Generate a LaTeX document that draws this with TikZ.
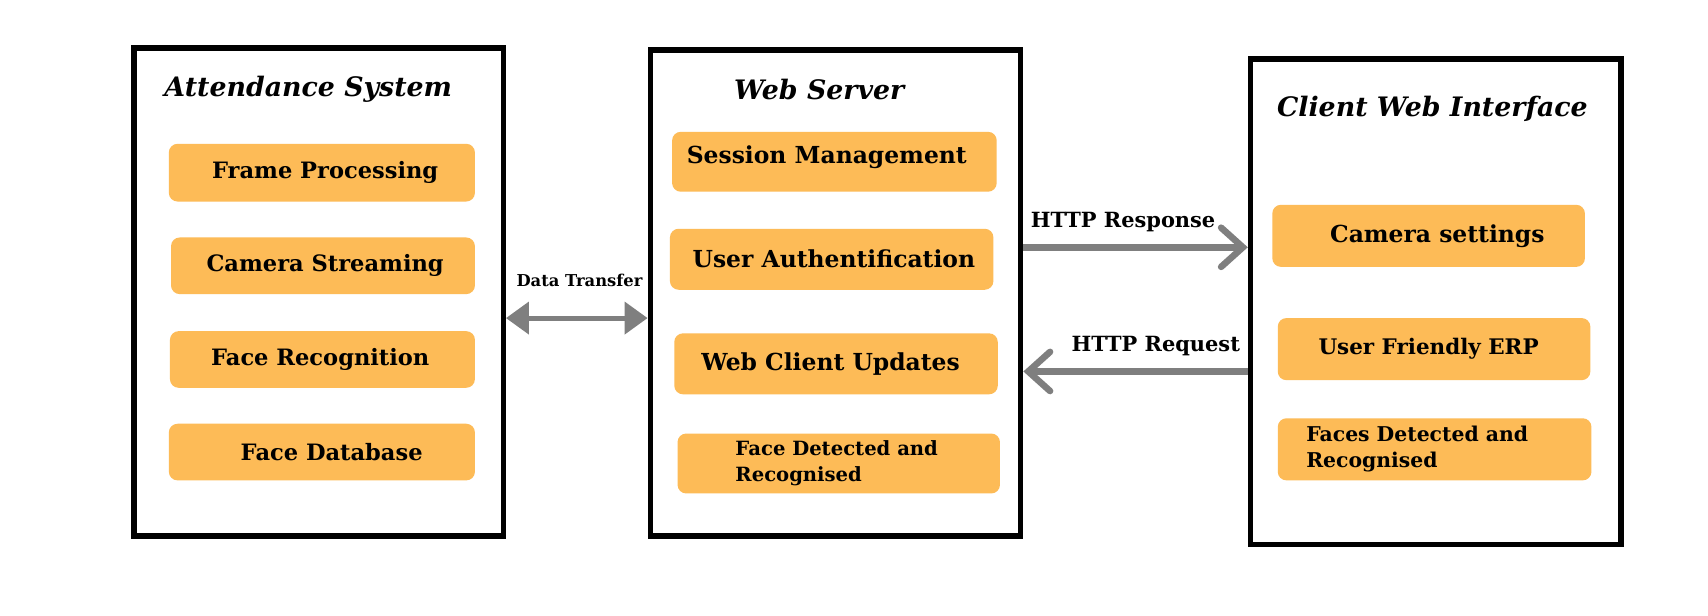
\documentclass[tikz,border=0pt]{standalone}
\usepackage{fontspec}
\setmainfont{DejaVu Serif}
\usetikzlibrary{arrows.meta}
\definecolor{orangebox}{HTML}{FDBB57}
\definecolor{arrowgray}{HTML}{7F7F7F}
\tikzset{
  frame/.style={draw=black, line width=5pt, fill=white, inner sep=0pt},
  obox/.style={fill=orangebox, rounded corners=8pt, inner sep=0pt, minimum width=281pt, minimum height=53pt},
  otext/.style={font=\fontsize{21.5}{25}\selectfont\bfseries, inner sep=0pt},
  ltext/.style={font=\fontsize{20.7}{24}\selectfont\bfseries, inner sep=0pt},
  stext/.style={font=\fontsize{18}{24}\selectfont\bfseries, inner sep=0pt, align=left},
  ttext/.style={font=\fontsize{24.6}{28}\selectfont\bfseries\itshape, inner sep=0pt},
  atext/.style={font=\fontsize{19.2}{22}\selectfont\bfseries, inner sep=0pt},
  dtarrow/.style={arrowgray, line width=4.5pt, {Triangle[length=21pt,width=29pt]}-{Triangle[length=21pt,width=29pt]}},
  barbarrow/.style={arrowgray, line width=6pt, -{Straight Barb[length=20pt,width=36pt,line cap=round]}},
}
\begin{document}
\begin{tikzpicture}[x=1pt,y=1pt]
\useasboundingbox (0,0) rectangle (1568,-565.5);
\fill[white] (0,0) rectangle (1568,-565.5);

% frames
\node[frame, minimum width=339pt, minimum height=448pt] (as) at (292.5,-268) {};
\node[frame, minimum width=340pt, minimum height=446pt] (ws) at (767,-269) {};
\node[frame, minimum width=340pt, minimum height=446pt] (cw) at (1318,-277) {};

% titles
\node[ttext] (ast) at (283,-82) {Attendance System};
\node[ttext] (wst) at (752,-82) {Web Server};
\node[ttext] (cwt) at (1315,-100) {Client Web Interface};

% attendance system boxes
\node[obox] (fp) at (295.5,-158.5) {};
\node[ltext] at ([xshift=3pt]fp.center) {Frame Processing};
\node[obox, minimum width=279pt, minimum height=52pt] (cs) at (296.5,-244) {};
\node[ltext] at ([xshift=2pt]cs.center) {Camera Streaming};
\node[obox, minimum width=280pt, minimum height=52pt] (fr) at (296,-330) {};
\node[ltext] at ([xshift=-2pt]fr.center) {Face Recognition};
\node[obox, minimum width=281pt, minimum height=52pt] (fd) at (295.5,-415) {};
\node[ltext] at ([xshift=9pt]fd.center) {Face Database};

% web server boxes
\node[obox, minimum width=298pt, minimum height=55pt] (sm) at (766,-148.5) {};
\node[otext] at ([xshift=-7pt,yshift=4pt]sm.center) {Session Management};
\node[obox, minimum width=297pt, minimum height=56pt] (ua) at (763.5,-238) {};
\node[otext] at ([xshift=2pt]ua.center) {User Authentification};
\node[obox, minimum width=297pt, minimum height=56pt] (wc) at (767.5,-334) {};
\node[otext] at ([xshift=-5pt]wc.center) {Web Client Updates};
\node[obox, minimum width=296pt, minimum height=55pt] (fdr) at (770,-425.5) {};
\node[stext, anchor=west] at ([xshift=-95pt]fdr.center) {Face Detected and\\Recognised};

% client web interface boxes
\node[obox, minimum width=287pt, minimum height=57pt] (camset) at (1311.5,-216.5) {};
\node[otext] at ([xshift=8pt]camset.center) {Camera settings};
\node[obox, minimum width=287pt, minimum height=57pt] (erp) at (1316.5,-320.5) {};
\node[stext, font=\fontsize{19.7}{24}\selectfont\bfseries] at ([xshift=-5pt]erp.center) {User Friendly ERP};
\node[obox, minimum width=288pt, minimum height=57pt] (fdc) at (1317,-412.5) {};
\node[stext, font=\fontsize{18.7}{24}\selectfont\bfseries, anchor=west] at ([xshift=-118pt]fdc.center) {Faces Detected and\\Recognised};

% connectors
\coordinate (dty) at (0,-292);
\draw[dtarrow] (as.east |- dty) -- (ws.west |- dty);
\node[atext, font=\fontsize{15}{18}\selectfont\bfseries] (dtl) at (532,-257) {Data Transfer};

\coordinate (rsy) at (0,-227);
\draw[barbarrow] (ws.east |- rsy) -- (cw.west |- rsy);
\node[atext] (rsl) at (1031,-204) {HTTP Response};

\coordinate (rqy) at (0,-341);
\draw[barbarrow] (cw.west |- rqy) -- (ws.east |- rqy);
\node[atext] (rql) at (1061,-318) {HTTP Request};
\end{tikzpicture}
\end{document}
